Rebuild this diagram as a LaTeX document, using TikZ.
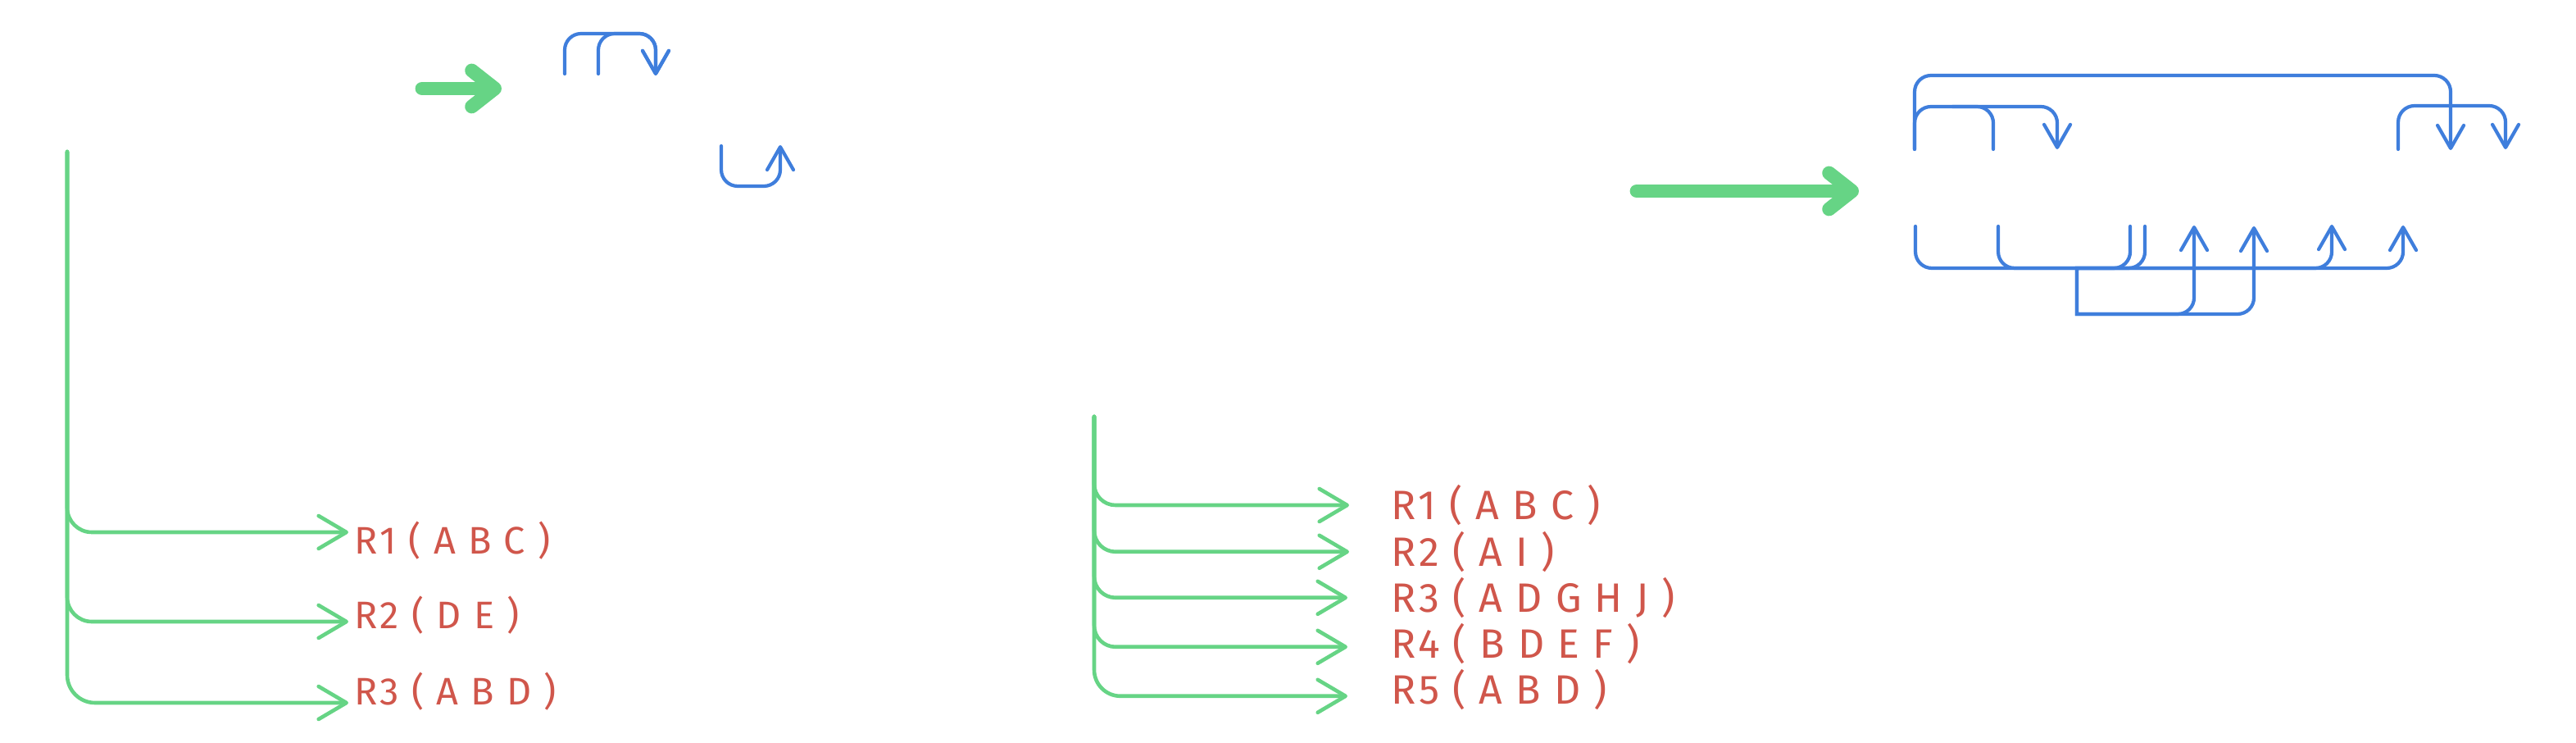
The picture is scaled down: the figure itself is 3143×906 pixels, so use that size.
\documentclass[tikz,border=0pt]{standalone}
\usepackage{fontspec}
\usepackage{tikz}
\usetikzlibrary{positioning,arrows.meta,calc}
\newfontfamily\lblfont{Fira Sans}[LetterSpace=6]
\definecolor{flowgreen}{HTML}{66D485}
\definecolor{linkblue}{HTML}{3F7EDC}
\definecolor{rulered}{HTML}{D0564B}

\begin{document}
\begin{tikzpicture}[x=0.25pt, y=-0.25pt,
  flow/.style={draw=flowgreen, line width=1.15pt, line cap=round, rounded corners=#1,
    -{Straight Barb[length=8.5pt,width=10pt,round]}},
  flow/.default=7.5pt,
  link/.style={draw=linkblue, line width=1.05pt, line cap=round, rounded corners=5pt,
    -{Straight Barb[length=7pt,width=8pt,round]}},
  stub/.style={draw=linkblue, line width=1.05pt, line cap=round, rounded corners=5pt},
  bigarr/.style={draw=flowgreen, line width=4.2pt, line cap=round,
    -{Straight Barb[length=7pt,width=11pt,round]}},
  rule/.style={text=rulered, font=\lblfont\fontsize{#1}{14}\selectfont, anchor=west,
    inner xsep=1.75pt, inner ysep=0pt, text height=0.689*#1 pt, text depth=0pt},
  rule/.default=12.5]
\useasboundingbox (0,0) rectangle (3143,906);

% big green arrows
\coordinate (g1a) at (515,108);
\coordinate (g1b) at (612,108);
\coordinate (g2a) at (1997,233);
\coordinate (g2b) at (2268,233);
\draw[bigarr] (g1a) -- (g1b);
\draw[bigarr] (g2a) -- (g2b);

% left tree
\coordinate (ltop) at (82,185);
\node[rule=11.7] (lr1) at (425,659) {R1 ( A B C )};
\node[rule=11.7, below=22.75pt of lr1.west, anchor=west] (lr2) {R2 ( D E )};
\node[rule=11.7, below=23.25pt of lr2.west, anchor=west] (lr3) {R3 ( A B D )};
\draw[flow] (ltop) |- ([yshift=2.5pt]lr1.west);
\draw[flow] (ltop) |- ([yshift=-2pt]lr2.west);
\draw[flow=8.5pt] (ltop) |- ([yshift=-3.5pt]lr3.west);

% middle tree
\coordinate (mtop) at (1335,508);
\node[rule] (mr1) at (1690,616) {R1 ( A B C )};
\node[rule, below=14.2pt of mr1.west, anchor=west] (mr2) {R2 ( A I )};
\node[rule, below=14pt of mr2.west, anchor=west] (mr3) {R3 ( A D G H J )};
\node[rule, below=14.2pt of mr3.west, anchor=west] (mr4) {R4 ( B D E F )};
\node[rule, below=14pt of mr4.west, anchor=west] (mr5) {R5 ( A B D )};
\draw[flow=6.5pt, shorten >=11pt] (mtop) |- (mr1.west);
\draw[flow=6.5pt, shorten >=11pt] (mtop) |- (mr2.west);
\draw[flow=6.5pt, shorten >=11.5pt] (mtop) |- (mr3.west);
\draw[flow=6.5pt, shorten >=11.5pt] (mtop) |- ([yshift=-0.8pt]mr4.west);
\draw[flow=8pt, shorten >=11.5pt] (mtop) |- ([yshift=-1.8pt]mr5.west);

% blue links, top left
\coordinate (s1) at (689,90);
\coordinate (s2) at (730,90);
\coordinate (t1) at (800,92);
\coordinate (s3) at (880,178);
\coordinate (t2) at (952,177);
\draw[link] (s1) -- ++(0,-49) -| (t1);
\draw[link] (s2) -- ++(0,-49) -| (t1);
\draw[link] (s3) -- ++(0,49) -| (t2);

% blue links, right, upper row
\coordinate (ta) at (2336,182);
\coordinate (tb) at (2432,182);
\coordinate (tc) at (2926,182);
\coordinate (tx) at (2990,183);
\coordinate (ty) at (2510,182);
\coordinate (tz) at (3057,182);
\draw[link] (ta) -- ++(0,-90) -| (tx);
\draw[link] (ta) -- ++(0,-52) -| (ty);
\draw[stub] (tb) -- ++(0,-52) -- ++(-50,0);
\draw[link] (tc) -- ++(0,-53) -| (tz);

% blue links, right, lower row
\coordinate (ba) at (2337,276);
\coordinate (bb) at (2438,276);
\coordinate (bc) at (2599,276);
\coordinate (bd) at (2617,276);
\coordinate (ua) at (2932,275);
\coordinate (ub) at (2845,274);
\coordinate (uc) at (2677,275);
\coordinate (ud) at (2750,276);
\draw[link] (ba) -- ++(0,51) -| (ua);
\draw[link] (bb) -- ++(0,51) -| (ub);
\draw[link] (bc) -- ++(0,51) [sharp corners] -- ++(-65,0) -- ++(0,56) [rounded corners=5pt] -| (uc);
\draw[link] (bd) -- ++(0,51) [sharp corners] -- ++(-83,0) -- ++(0,56) [rounded corners=5pt] -| (ud);
\end{tikzpicture}
\end{document}
